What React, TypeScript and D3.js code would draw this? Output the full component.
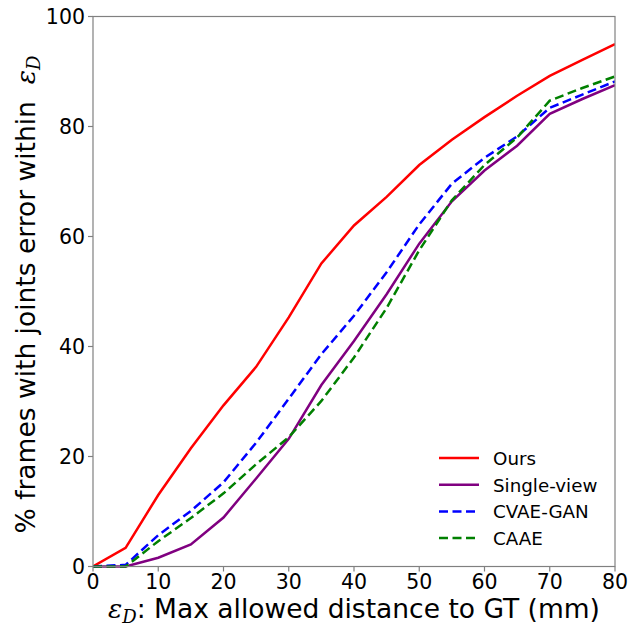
import React from 'react';
import * as d3 from 'd3';

// thresholds in mm and % of frames for each method
const thresholds = [0, 5, 10, 15, 20, 25, 30, 35, 40, 45, 50, 55, 60, 65, 70, 75, 80];
const ours = [0, 3.4, 13, 21.5, 29.3, 36.3, 45.3, 55.1, 62, 67.2, 73, 77.6, 81.7, 85.6, 89.2, 92.1, 95];
const singleView = [0, 0, 1.6, 4, 8.9, 16, 23.2, 33, 41, 49.5, 58.7, 66.4, 72, 76.5, 82.3, 85, 87.5];
const cvaeGan = [0, 0.3, 5.7, 10.1, 15.3, 22.5, 30.5, 38.6, 45.6, 53.5, 62.2, 69.6, 74.3, 78.2, 83.4, 85.8, 88.2];
const caae = [0, 0, 4.6, 8.8, 13.3, 18.6, 23.5, 30.1, 38, 47, 57.5, 66.6, 73, 78, 84.7, 87, 89.1];

const xTicks = [0, 10, 20, 30, 40, 50, 60, 70, 80];
const yTicks = [0, 20, 40, 60, 80, 100];

const series = [
  { name: 'Ours', values: ours, color: '#ff0000', dash: '' },
  { name: 'Single-view', values: singleView, color: '#800080', dash: '' },
  { name: 'CVAE-GAN', values: cvaeGan, color: '#0000ff', dash: '9,4.5' },
  { name: 'CAAE', values: caae, color: '#008000', dash: '9,4.5' },
];

const W = 643;
const H = 626;
const left = 93;
const right = 615;
const top = 16.5;
const bottom = 566.5;
const font = 'DejaVu Sans, sans-serif';
const mathFont = 'DejaVu Serif, serif';

export default function App() {
  const x = d3.scaleLinear().domain([0, 80]).range([left, right]);
  const y = d3.scaleLinear().domain([0, 100]).range([bottom, top]);

  const line = (vals: number[]) =>
    d3.line<number>()
      .x((_, i) => x(thresholds[i]))
      .y(d => y(d))(vals) || '';

  return (
    <svg width={W} height={H} style={{ position: 'absolute', left: 0, top: 0, background: '#fff' }}>
      <defs>
        <clipPath id="plot">
          <rect x={left} y={top - 2} width={right - left} height={bottom - top + 4} />
        </clipPath>
      </defs>

      {/* lines */}
      <g clipPath="url(#plot)">
        {series.map(s => (
          <path key={s.name} d={line(s.values)} fill="none" stroke={s.color}
            strokeWidth={2.5} strokeDasharray={s.dash || undefined} />
        ))}
      </g>

      {/* frame */}
      <rect x={left} y={top} width={right - left} height={bottom - top}
        fill="none" stroke="#808080" strokeWidth={1.2} />

      {/* x ticks */}
      {xTicks.map(t => (
        <g key={'x' + t}>
          <line x1={x(t)} x2={x(t)} y1={bottom} y2={bottom + 5} stroke="#808080" strokeWidth={1.2} />
          <text x={x(t)} y={bottom + 22} textAnchor="middle" fontFamily={font} fontSize={20.5} fill="#000">{t}</text>
        </g>
      ))}

      {/* y ticks */}
      {yTicks.map(t => (
        <g key={'y' + t}>
          <line x1={left - 5} x2={left} y1={y(t)} y2={y(t)} stroke="#808080" strokeWidth={1.2} />
          <text x={left - 8} y={y(t) + 7.5} textAnchor="end" fontFamily={font} fontSize={20.5} fill="#000">{t}</text>
        </g>
      ))}

      {/* x label */}
      <text x={354} y={618} textAnchor="middle" fontFamily={font} fontSize={26.5} fill="#000">
        <tspan fontStyle="italic" fontFamily={mathFont}>ε</tspan>
        <tspan fontStyle="italic" fontFamily={mathFont} fontSize={18} dy={5}>D</tspan>
        <tspan dy={-5}>: Max allowed distance to GT (mm)</tspan>
      </text>

      {/* y label */}
      <text transform={`translate(35,${294.5}) rotate(-90)`} textAnchor="middle" fontFamily={font} fontSize={26.5}
        fill="#000" style={{ whiteSpace: 'pre' }}>
        <tspan>{'% frames with joints error within  '}</tspan>
        <tspan fontStyle="italic" fontFamily={mathFont}>ε</tspan>
        <tspan fontStyle="italic" fontFamily={mathFont} fontSize={18} dy={5}>D</tspan>
      </text>

      {/* legend */}
      {series.map((s, i) => {
        const ly = 458 + i * 26.7;
        return (
          <g key={'lg' + s.name}>
            <line x1={439} x2={479} y1={ly} y2={ly} stroke={s.color} strokeWidth={2.5}
              strokeDasharray={s.dash || undefined} />
            <text x={493} y={ly + 7} fontFamily={font} fontSize={18.3} fill="#000">{s.name}</text>
          </g>
        );
      })}
    </svg>
  );
}
